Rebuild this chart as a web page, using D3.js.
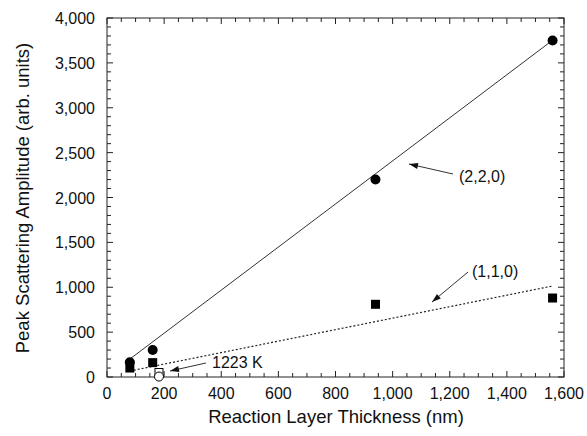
<!DOCTYPE html>
<html><head><meta charset="utf-8">
<script src="https://cdn.jsdelivr.net/npm/d3@7"></script>
<style>body{margin:0;background:#fff}text{font-family:"Liberation Sans",Arial,sans-serif;fill:#111}</style>
</head><body>
<svg id="c" width="587" height="436"></svg>
<script>
const xTicks = [0,200,400,600,800,1000,1200,1400,1600];
const yTicks = [0,500,1000,1500,2000,2500,3000,3500,4000];
const thick220 = [80,160,940,1560];
const amp220 = [165,300,2200,3750];
const thick110 = [80,160,940,1560];
const amp110 = [100,160,810,880];
const thick1223 = [182,182];
const amp1223 = [50,5];
const fit220 = [[80,200],[1560,3752]];
const fit110 = [[80,67],[1560,1014]];

const svg = d3.select("#c");
const L=107,R=564,T=18,B=377;
const x = d3.scaleLinear().domain([0,1600]).range([L,R]);
const y = d3.scaleLinear().domain([0,4000]).range([B,T]);
const fmt = d3.format(",");

svg.append("rect").attr("x",L).attr("y",T).attr("width",R-L).attr("height",B-T)
  .attr("fill","none").attr("stroke","#222").attr("stroke-width",1);

const g = svg.append("g").attr("stroke","#222").attr("stroke-width",1);
d3.range(0,1601,50).forEach(v=>{
  const len = v%200===0?6:4;
  g.append("line").attr("x1",x(v)).attr("x2",x(v)).attr("y1",B).attr("y2",B-len);
  g.append("line").attr("x1",x(v)).attr("x2",x(v)).attr("y1",T).attr("y2",T+len);
});
d3.range(0,4001,100).forEach(v=>{
  const len = v%500===0?6:4;
  g.append("line").attr("y1",y(v)).attr("y2",y(v)).attr("x1",L).attr("x2",L+len);
  g.append("line").attr("y1",y(v)).attr("y2",y(v)).attr("x1",R).attr("x2",R-len);
});

svg.selectAll(".xl").data(xTicks).enter().append("text")
  .attr("x",d=>x(d)).attr("y",B+22).attr("text-anchor","middle")
  .attr("font-size",16).text(d=>fmt(d));
svg.selectAll(".yl").data(yTicks).enter().append("text")
  .attr("x",L-12).attr("y",d=>y(d)+6).attr("text-anchor","end")
  .attr("font-size",16).text(d=>fmt(d));

svg.append("text").attr("x",336).attr("y",423).attr("text-anchor","middle")
  .attr("font-size",18.5).text("Reaction Layer Thickness (nm)");
svg.append("text").attr("transform",`translate(29,198) rotate(-90)`)
  .attr("text-anchor","middle").attr("font-size",18.5).text("Peak Scattering Amplitude (arb. units)");

const line = d3.line().x(d=>x(d[0])).y(d=>y(d[1]));
svg.append("path").attr("d",line(fit220)).attr("stroke","#333").attr("stroke-width",1).attr("fill","none");
svg.append("path").attr("d",line(fit110)).attr("stroke","#222").attr("stroke-width",1.2)
  .attr("stroke-dasharray","2,2").attr("fill","none");

svg.selectAll(".sq").data(thick110).enter().append("rect")
  .attr("x",d=>x(d)-4.5).attr("y",(d,i)=>y(amp110[i])-4.5).attr("width",9).attr("height",9).attr("fill","#000");
svg.selectAll(".ci").data(thick220).enter().append("circle")
  .attr("cx",d=>x(d)).attr("cy",(d,i)=>y(amp220[i])).attr("r",5).attr("fill","#000");
svg.append("rect").attr("x",x(thick1223[0])-4).attr("y",y(amp1223[0])-4).attr("width",8).attr("height",8)
  .attr("fill","#fff").attr("stroke","#000").attr("stroke-width",1);
svg.append("circle").attr("cx",x(thick1223[1])).attr("cy",y(amp1223[1])).attr("r",4.5)
  .attr("fill","#fff").attr("stroke","#000").attr("stroke-width",1);

const defs = svg.append("defs");
defs.append("marker").attr("id","ah").attr("viewBox","0 0 12 8").attr("refX",12).attr("refY",4)
  .attr("markerWidth",12).attr("markerHeight",6).attr("markerUnits","userSpaceOnUse").attr("orient","auto")
  .append("path").attr("d","M0,0L12,4L0,8Z").attr("fill","#111");
function ann(x1,y1,x2,y2){
  svg.append("line").attr("x1",x1).attr("y1",y1).attr("x2",x2).attr("y2",y2)
    .attr("stroke","#333").attr("stroke-width",1).attr("marker-end","url(#ah)");
}
ann(453,174,409,164);
svg.append("text").attr("x",459).attr("y",182).attr("font-size",16).text("(2,2,0)");
ann(468,272,432,302);
svg.append("text").attr("x",472).attr("y",277).attr("font-size",16).text("(1,1,0)");
ann(206,363,170,371);
svg.append("text").attr("x",212).attr("y",368).attr("font-size",16).text("1223 K");
</script>
</body></html>
